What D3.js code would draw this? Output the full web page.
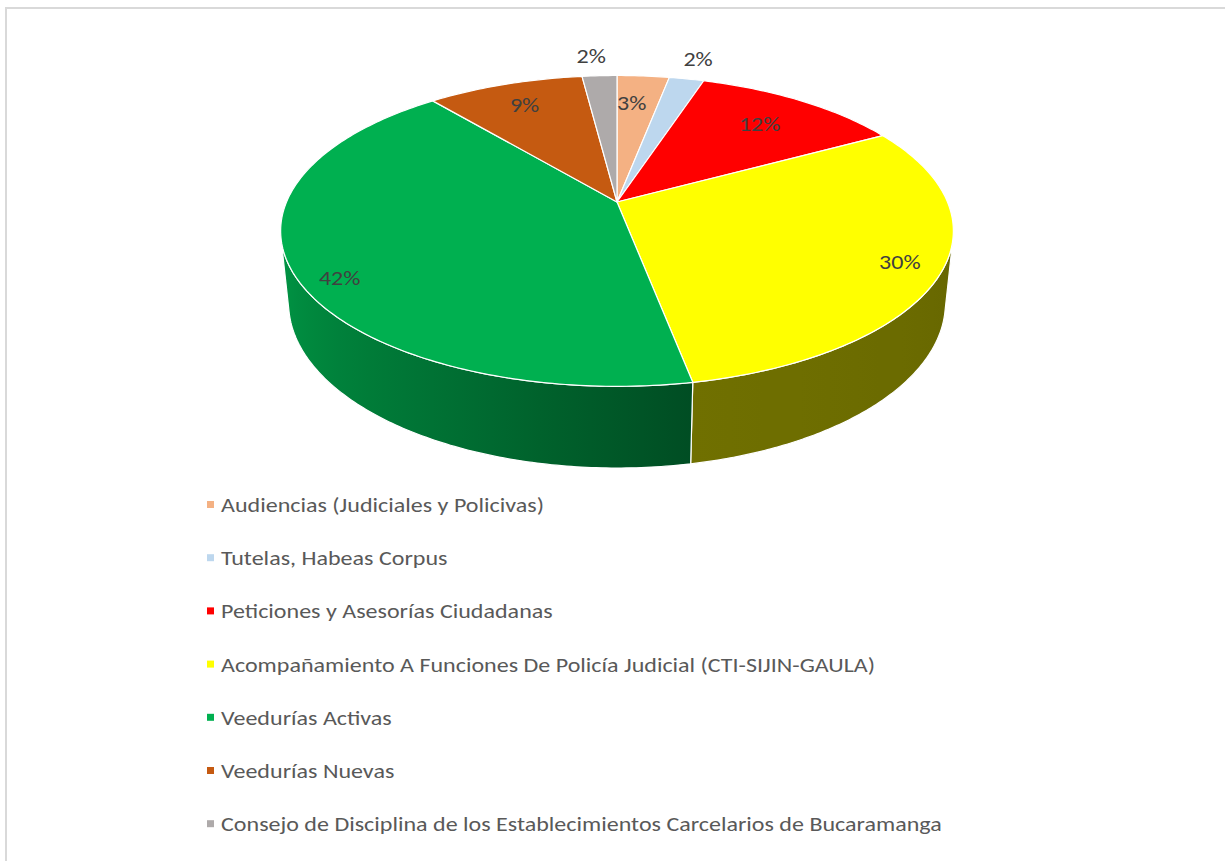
<!DOCTYPE html>
<html>
<head>
<meta charset="utf-8">
<script src="https://cdn.jsdelivr.net/npm/d3@7"></script>
<style>
  html, body { margin: 0; padding: 0; background: #fff; }
  svg { display: block; }
  text { font-family: Carlito, Lato, "Open Sans", sans-serif; }
</style>
</head>
<body>
<svg id="chart" width="1225" height="861"></svg>
<script>
// Categories and their shares (percent)
const categories = [
  "Audiencias (Judiciales y Policivas)",
  "Tutelas, Habeas Corpus",
  "Peticiones y Asesorías Ciudadanas",
  "Acompañamiento A Funciones De Policía Judicial (CTI-SIJIN-GAULA)",
  "Veedurías Activas",
  "Veedurías Nuevas",
  "Consejo de Disciplina de los Establecimientos Carcelarios de Bucaramanga"
];
const values = [3, 2, 12, 30, 42, 9, 2];
const colors = ["#f4b183", "#bdd7ee", "#ff0000", "#ffff00", "#00b050", "#c55a11", "#aeaaaa"];

// Label placement: radius factor (1 = rim) and angle nudge in degrees
const labelRadius = [0.75, 1.2, 0.75, 0.88, 0.895, 0.8, 1.19];
const labelNudge  = [-1.5, 0, 0, 0, -5.8, 0, -1];

const svg = d3.select("#chart");

// Chart frame
svg.append("rect")
  .attr("x", 6).attr("y", 8).attr("width", 1240).attr("height", 900)
  .attr("fill", "#fff").attr("stroke", "#d9d9d9").attr("stroke-width", 2);

// Perspective camera for the 3D pie
const cam = { cx: 617, cy: 202, f: 1583, D: 4.79, tilt: 27 * Math.PI / 180, H: 0.247 };
const s = Math.sin(cam.tilt), c = Math.cos(cam.tilt);

// t: angle clockwise from 12 o'clock, r: radius factor, Y: height (0 top face, -H base)
function project(t, r, Y) {
  const X = r * Math.sin(t), Z = -r * Math.cos(t);
  const v = Y * c - Z * s;
  const w = cam.D - (Z * c + Y * s);
  return [cam.cx + cam.f * X / w, cam.cy - cam.f * v / w];
}

const pie = d3.pie().sort(null).value(d => d).startAngle(0).endAngle(2 * Math.PI);
const arcs = pie(values);

// Side wall visible where the outward normal faces the camera
const zVis = 1 / (cam.D * c);
const visStart = Math.PI / 2 + Math.asin(zVis);
const visEnd = 3 * Math.PI / 2 - Math.asin(zVis);

// Shading of the side wall along its circumference
const shade = d3.scaleLinear()
  .domain([100, 170, 210, 262].map(d => d * Math.PI / 180))
  .range([0.40, 0.44, 0.66, 0.88])
  .clamp(true);

function shadeColor(base, k) {
  const col = d3.rgb(base);
  return d3.rgb(col.r * k, col.g * k, col.b * k).formatHex();
}

const defs = svg.append("defs");
const gWalls = svg.append("g");
const N = 120;

arcs.forEach((a, i) => {
  const t0 = Math.max(a.startAngle, visStart);
  const t1 = Math.min(a.endAngle, visEnd);
  if (t1 <= t0) return;
  const ts = d3.range(N + 1).map(k => t0 + (t1 - t0) * k / N);
  const top = ts.map(t => project(t, 1, 0));
  const bottom = ts.map(t => project(t, 1, -cam.H)).reverse();
  const xs = top.map(p => p[0]);
  const xMin = d3.min(xs), xMax = d3.max(xs);

  const id = "wall" + i;
  const grad = defs.append("linearGradient")
    .attr("id", id).attr("gradientUnits", "userSpaceOnUse")
    .attr("x1", xMin).attr("x2", xMax).attr("y1", 0).attr("y2", 0);
  const samples = d3.range(13).map(k => t0 + (t1 - t0) * k / 12)
    .map(t => ({ x: project(t, 1, 0)[0], k: shade(t) }))
    .sort((p, q) => p.x - q.x);
  samples.forEach(p => {
    grad.append("stop")
      .attr("offset", (p.x - xMin) / (xMax - xMin))
      .attr("stop-color", shadeColor(colors[i], p.k));
  });

  gWalls.append("path")
    .attr("d", "M" + top.concat(bottom).map(p => p.join(",")).join("L") + "Z")
    .attr("fill", `url(#${id})`)
    .attr("stroke", "#ffffff").attr("stroke-width", 1.2)
    .attr("stroke-linejoin", "round");
});

// Top face of each slice
const gTop = svg.append("g");
const apex = project(0, 0, 0);
arcs.forEach((a, i) => {
  const n = Math.max(8, Math.ceil((a.endAngle - a.startAngle) * 60));
  const pts = d3.range(n + 1).map(k => project(a.startAngle + (a.endAngle - a.startAngle) * k / n, 1, 0));
  gTop.append("path")
    .attr("d", "M" + apex.join(",") + "L" + pts.map(p => p.join(",")).join("L") + "Z")
    .attr("fill", colors[i])
    .attr("stroke", "#ffffff").attr("stroke-width", 1.2)
    .attr("stroke-linejoin", "round");
});

// Legend (drawn first so its text width sets the horizontal text stretch)
const legendWidth = 721;   // span of the longest legend entry
const legend = svg.append("g").attr("transform", "translate(207,505)");
const rowH = 53.2;
const item = legend.selectAll("g")
  .data(categories)
  .join("g")
  .attr("transform", (d, i) => `translate(0,${i * rowH})`);
item.append("rect")
  .attr("x", 0).attr("y", -4).attr("width", 7).attr("height", 7)
  .attr("fill", (d, i) => colors[i]);
const legendText = item.append("text")
  .attr("dy", "0.35em")
  .attr("font-size", 20)
  .attr("fill", "#595959")
  .text(d => d);
const longest = d3.max(legendText.nodes(), n => n.getComputedTextLength());
const sx = legendWidth / longest;
legendText.attr("transform", `translate(14,0) scale(${sx},1)`);

// Percentage labels
const fmt = d3.format(".0%");
const total = d3.sum(values);
svg.append("g").selectAll("text")
  .data(arcs)
  .join("text")
  .attr("transform", (a, i) => {
    const t = (a.startAngle + a.endAngle) / 2 + labelNudge[i] * Math.PI / 180;
    const p = project(t, labelRadius[i], 0);
    return `translate(${p[0]},${p[1]}) scale(${sx},1)`;
  })
  .attr("text-anchor", "middle")
  .attr("dy", "0.35em")
  .attr("font-size", 20)
  .attr("fill", "#404040")
  .text(a => fmt(a.data / total));
</script>
</body>
</html>
